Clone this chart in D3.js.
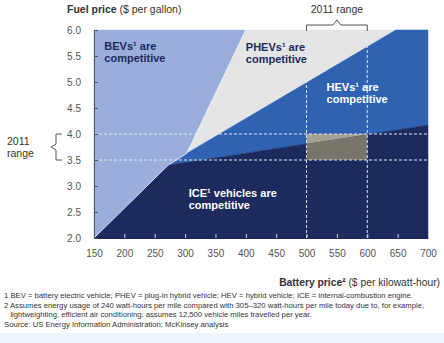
<!DOCTYPE html>
<html>
<head>
<meta charset="utf-8">
<script src="https://cdn.jsdelivr.net/npm/d3@7"></script>
<style>
  body { margin: 0; background: #fff; }
  svg { display: block; font-family: "Liberation Sans", Arial, sans-serif; }
</style>
</head>
<body>
<script>
// fuel price vs battery price: where each powertrain wins

const width = 444;
const height = 343;
const margin = {top: 30, left: 94, bottom: 105, right: 16};

const xTicks = [150, 200, 250, 300, 350, 400, 450, 500, 550, 600, 650, 700];
const yTicks = [2.0, 2.5, 3.0, 3.5, 4.0, 4.5, 5.0, 5.5, 6.0];

// region outlines as [battery price, fuel price]
const bevArea = [[150, 6.0], [150, 2.0], [272, 3.4], [303, 3.63], [400, 6.0]];
const phevArea = [[400, 6.0], [303, 3.63], [647, 6.0]];
const hevArea = [[303, 3.63], [647, 6.0], [700, 6.0], [700, 4.17], [272, 3.4]];
const iceArea = [[150, 2.0], [272, 3.4], [700, 4.17], [700, 2.0]];

const rangeBattery = [500, 600];
const rangeFuel = [3.5, 4.0];

const regionLabels = [
    {lines: ['BEVs¹ are', 'competitive'], at: [167, 5.62], fill: '#1c2a5e'},
    {lines: ['PHEVs¹ are', 'competitive'], at: [400, 5.6], fill: '#1c2a5e'},
    {lines: ['HEVs¹ are', 'competitive'], at: [533, 4.83], fill: '#ffffff'},
    {lines: ['ICE¹ vehicles are', 'competitive'], at: [306, 2.78], fill: '#ffffff'}
];

const footnotes = [
    '1 BEV = battery electric vehicle; PHEV = plug-in hybrid vehicle; HEV = hybrid vehicle; ICE = internal-combustion engine.',
    '2 Assumes energy usage of 240 watt-hours per mile compared with 305\u2013320 watt-hours per mile today due to, for example,',
    '   lightweighting, efficient air conditioning; assumes 12,500 vehicle miles travelled per year.'
];

const x = d3.scaleLinear()
    .domain([150, 700])
    .range([margin.left, width - margin.right]);

const y = d3.scaleLinear()
    .domain([2, 6])
    .range([height - margin.bottom, margin.top]);

const line = d3.line().x(d => x(d[0])).y(d => y(d[1]));

const svg = d3.select('body').append('svg')
    .attr('width', width)
    .attr('height', height);

// light strip at the very bottom
svg.append('rect')
    .attr('x', 0).attr('y', 333)
    .attr('width', width).attr('height', height - 333)
    .attr('fill', '#eef6fc');

const areas = [
    {id: 'bev', pts: bevArea, fill: '#9aaedb'},
    {id: 'phev', pts: phevArea, fill: '#e5e5e5'},
    {id: 'hev', pts: hevArea, fill: '#2f63b2'},
    {id: 'ice', pts: iceArea, fill: '#1c2a5e'}
];

const defs = svg.append('defs');
areas.forEach(a => {
    defs.append('clipPath').attr('id', 'clip-' + a.id)
        .append('path').attr('d', line(a.pts) + 'Z');
});

svg.append('g')
    .selectAll('path').data(areas).enter().append('path')
    .attr('d', d => line(d.pts) + 'Z')
    .attr('fill', d => d.fill)
    .attr('stroke', d => d.fill)
    .attr('stroke-width', 0.5);

// thin light edge along the BEV boundary
svg.append('path')
    .attr('d', line(bevArea.slice(1)))
    .attr('fill', 'none')
    .attr('stroke', '#e8ecf6')
    .attr('stroke-width', 1);

// 2011 range box, shaded differently over HEV and ICE
const box = g => g
    .attr('x', x(rangeBattery[0]))
    .attr('y', y(rangeFuel[1]))
    .attr('width', x(rangeBattery[1]) - x(rangeBattery[0]))
    .attr('height', y(rangeFuel[0]) - y(rangeFuel[1]));

svg.append('rect').call(box).attr('fill', '#a3a295').attr('clip-path', 'url(#clip-hev)');
svg.append('rect').call(box).attr('fill', '#78766b').attr('clip-path', 'url(#clip-ice)');

// dashed guides for the 2011 ranges
const guides = svg.append('g')
    .attr('stroke', '#dfe7f5')
    .attr('stroke-width', 1)
    .attr('stroke-dasharray', '3,2');

guides.selectAll('.h').data(rangeFuel).enter().append('line')
    .attr('x1', x(150)).attr('x2', x(700))
    .attr('y1', d => y(d)).attr('y2', d => y(d));

guides.selectAll('.v').data(rangeBattery).enter().append('line')
    .attr('x1', d => x(d)).attr('x2', d => x(d))
    .attr('y1', y(6)).attr('y2', y(2));

// axes with inward ticks
const xAxis = g => g
    .attr('transform', `translate(0, ${y(2)})`)
    .call(d3.axisBottom(x).tickValues(xTicks).tickSize(-4).tickPadding(12).tickSizeOuter(0))
    .call(g => g.select('.domain').attr('stroke', '#1c2a5e'))
    .call(g => g.selectAll('.tick line').attr('stroke', '#c9d0e4'))
    .call(g => g.selectAll('.tick text').attr('fill', '#555').attr('font-size', 10));

const yAxis = g => g
    .attr('transform', `translate(${x(150)}, 0)`)
    .call(d3.axisLeft(y).tickValues(yTicks).tickFormat(d3.format('.1f')).tickSize(-4).tickPadding(13).tickSizeOuter(0))
    .call(g => g.select('.domain').attr('stroke', '#555'))
    .call(g => g.selectAll('.tick line').attr('stroke', '#555'))
    .call(g => g.selectAll('.tick text').attr('fill', '#555').attr('font-size', 10));

svg.append('g').call(xAxis);
svg.append('g').call(yAxis);

// region labels
regionLabels.forEach(r => {
    const t = svg.append('text')
        .attr('x', x(r.at[0]))
        .attr('y', y(r.at[1]))
        .attr('fill', r.fill)
        .attr('font-size', 11)
        .attr('font-weight', 'bold');
    r.lines.forEach((s, i) => {
        t.append('tspan').attr('x', x(r.at[0])).attr('dy', i ? 12 : 0).text(s);
    });
});

// axis titles
const yTitle = svg.append('text')
    .attr('x', 67).attr('y', 13)
    .attr('font-size', 10.5).attr('fill', '#333');
yTitle.append('tspan').attr('font-weight', 'bold').text('Fuel price');
yTitle.append('tspan').text(' ($ per gallon)');

const xTitle = svg.append('text')
    .attr('x', 440).attr('y', 286)
    .attr('text-anchor', 'end')
    .attr('font-size', 10.3).attr('fill', '#333');
xTitle.append('tspan').attr('font-weight', 'bold').text('Battery price²');
xTitle.append('tspan').text(' ($ per kilowatt-hour)');

// top bracket for battery price range
const x0 = x(rangeBattery[0]), x1 = x(rangeBattery[1]), xm = (x0 + x1) / 2;
svg.append('text')
    .attr('x', xm).attr('y', 13)
    .attr('text-anchor', 'middle')
    .attr('font-size', 10.5).attr('fill', '#333')
    .text('2011 range');
svg.append('path')
    .attr('d', `M${x0},31 V25 H${xm - 4} L${xm},20 L${xm + 4},25 H${x1} V31`)
    .attr('fill', 'none').attr('stroke', '#555').attr('stroke-width', 1);

// left brace for fuel price range
const yTop = y(rangeFuel[1]), yBot = y(rangeFuel[0]), ym = (yTop + yBot) / 2;
svg.append('path')
    .attr('d', `M62,${yTop} H56 V${ym - 3} L51,${ym} L56,${ym + 3} V${yBot} H62`)
    .attr('fill', 'none').attr('stroke', '#555').attr('stroke-width', 1);
const leftLabel = svg.append('text')
    .attr('x', 7).attr('y', ym - 2)
    .attr('font-size', 10.5).attr('fill', '#333');
leftLabel.append('tspan').attr('x', 7).text('2011');
leftLabel.append('tspan').attr('x', 7).attr('dy', 12).text('range');

// footnotes
svg.append('g')
    .selectAll('text').data(footnotes).enter().append('text')
    .attr('x', 4)
    .attr('y', (d, i) => 298 + i * 9.5)
    .attr('font-size', 7.7)
    .attr('fill', '#333')
    .attr('xml:space', 'preserve')
    .style('white-space', 'pre')
    .text(d => d);

svg.append('text')
    .attr('x', 4).attr('y', 327)
    .attr('font-size', 7.7).attr('fill', '#333')
    .text('Source: US Energy Information Administration; McKinsey analysis');

svg.node();
</script>
</body>
</html>
